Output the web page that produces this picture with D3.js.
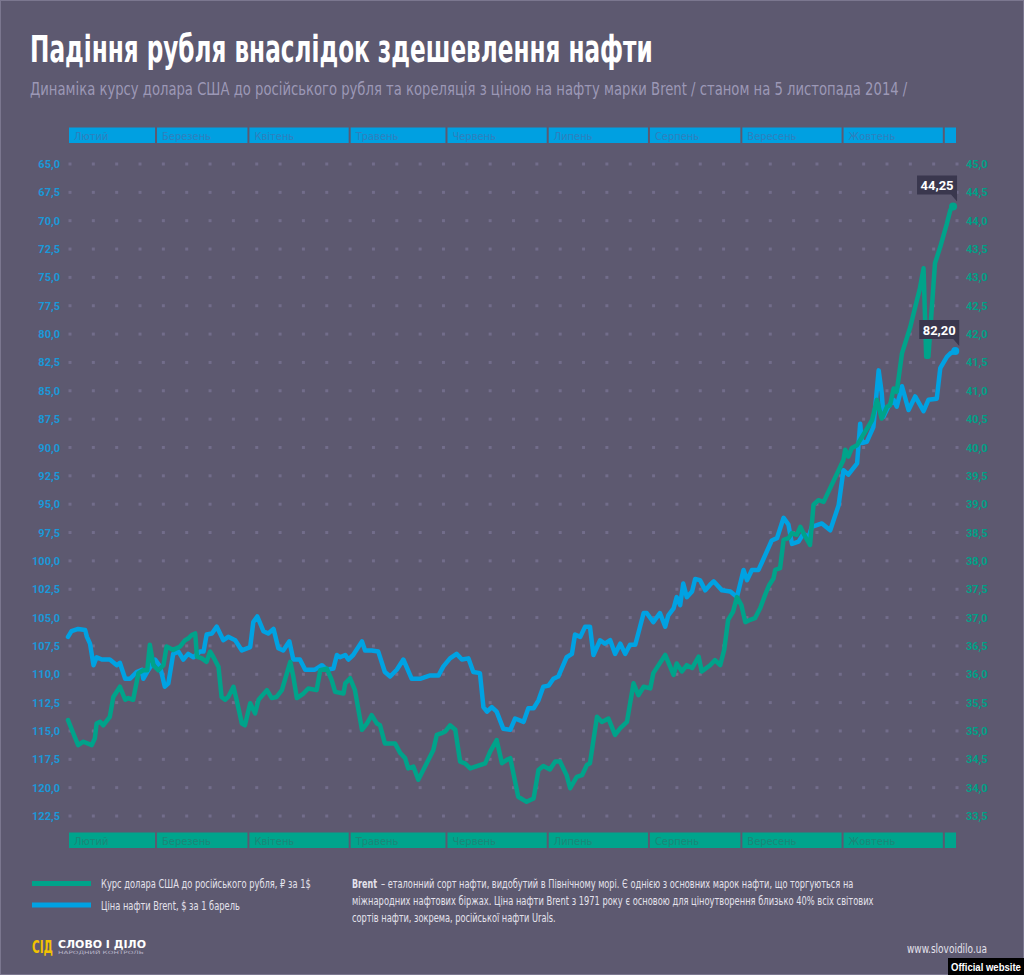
<!DOCTYPE html>
<html><head><meta charset="utf-8">
<script src="https://cdn.jsdelivr.net/npm/d3@7"></script>
<style>
html,body{margin:0;padding:0;background:#5d5970;}
svg{display:block;}
.cond{font-family:'Liberation Sans Narrow','DejaVu Sans Condensed','Roboto Condensed','Liberation Sans',sans-serif;}
</style></head>
<body>
<svg id="chart" width="1024" height="975"></svg>
<script>
// ---------- DATA ----------
const titleText = "Падіння рубля внаслідок здешевлення нафти";
const subtitleText = "Динаміка курсу долара США до російського рубля та кореляція з ціною на нафту марки Brent / станом на 5 листопада 2014 /";
const months = ["Лютий","Березень","Квітень","Травень","Червень","Липень","Серпень","Вересень","Жовтень",""];
const monthDays = [20,21,23,22,23,23,21,23,23,3]; // trading days per month
const brentTicks = [65,67.5,70,72.5,75,77.5,80,82.5,85,87.5,90,92.5,95,97.5,100,102.5,105,107.5,110,112.5,115,117.5,120,122.5];
const rubTicks = [33.5,34,34.5,35,35.5,36,36.5,37,37.5,38,38.5,39,39.5,40,40.5,41,41.5,42,42.5,43,43.5,44,44.5,45];

// Brent oil price, $ per barrel (left axis, inverted) — position in trading days
const brentT = [0,0.8,2.3,3.9,4.3,5.0,5.8,6.5,7.7,9.5,11.1,11.8,13.0,14.1,15.6,16.8,17.1,18.3,19.8,20.9,22.0,22.8,23.9,25.1,26.2,27.3,28.5,30.0,30.8,31.5,32.7,33.8,35.3,36.4,38.0,39.5,41.4,42.1,43.0,44.4,45.5,46.7,47.8,48.9,50.3,51.2,52.7,53.9,56.1,57.7,58.8,60.3,61.1,61.8,63.0,63.7,64.8,66.8,67.5,69.0,70.5,72.0,73.2,74.7,76.2,78.1,80.0,82.3,84.2,85.3,86.8,88.3,89.5,91.0,92.1,93.6,94.4,95.2,96.3,97.4,98.9,100.5,101.6,103.5,104.6,105.8,106.9,108.0,109.2,110.3,111.4,113.3,114.5,115.2,116.4,117.5,118.6,119.4,120.9,122.0,123.2,124.3,125.5,126.6,127.7,128.9,130.8,131.5,133.0,134.5,135.7,136.4,137.6,138.3,139.1,139.8,140.6,141.8,142.5,143.6,144.8,145.9,146.7,148.6,150.5,152.0,153.5,154.3,155.4,156.9,159.9,161.1,162.6,163.7,164.5,166.0,167.1,168.3,169.0,171.3,173.2,175.1,176.2,177.3,179.3,180.0,180.4,181.5,183.0,184.2,184.9,185.3,186.4,187.6,188.3,189.5,191.0,192.5,194.4,195.5,197.4,198.2,199.7,200.5,201.6];
const brentV = [106.7,106.2,106.0,106.1,106.7,107.3,109.2,108.5,108.7,108.7,109.2,109.0,110.4,110.4,109.8,109.6,110.4,109.6,108.7,109.3,111.1,110.8,108.2,108.0,108.7,108.2,108.5,108.0,108.0,106.5,106.4,105.8,107.0,106.7,107.0,107.9,107.6,105.4,104.9,106.2,106.4,106.0,107.7,107.9,107.1,108.7,108.7,109.6,109.6,109.2,109.6,109.5,108.3,108.5,108.3,108.7,108.3,107.1,107.9,107.9,108.0,109.8,110.2,109.6,108.7,110.4,110.4,110.1,110.1,109.3,108.6,108.2,108.7,108.6,109.8,109.9,112.9,113.3,112.9,113.3,114.8,114.9,113.9,114.2,113.0,113.0,112.3,111.1,111.0,110.4,110.2,108.5,108.2,106.5,106.7,105.8,105.8,108.3,107.0,107.3,107.0,108.2,107.3,108.2,107.4,107.4,104.6,104.6,105.4,104.6,105.8,104.8,104.2,103.2,103.9,102.0,103.2,102.7,101.6,101.7,102.6,102.1,101.8,102.6,102.7,103.2,100.8,101.7,100.8,100.8,98.2,98.0,96.2,96.8,98.5,98.3,97.6,97.9,97.0,96.7,97.3,95.1,92.0,92.4,91.4,87.9,89.6,89.5,88.2,83.2,85.2,87.3,86.4,85.8,86.4,84.6,86.7,85.5,86.8,85.8,85.7,83.0,82.0,81.7,81.5];

// USD/RUB exchange rate, ₽ per $1 (right axis)
const rubT = [0,1.2,2.3,3.5,5.4,6.1,6.5,7.3,8.0,9.5,10.3,11.8,13.0,13.7,14.8,16.0,17.1,18.0,18.6,19.4,20.5,21.7,22.4,23.9,25.5,26.6,27.3,28.1,28.9,29.3,30.4,31.5,32.3,33.0,34.2,34.9,35.7,36.4,37.6,38.3,39.5,40.2,41.4,42.5,43.3,45.2,46.3,47.4,48.6,50.5,51.2,52.0,53.5,54.6,56.5,57.3,58.8,59.9,60.7,62.6,63.0,64.1,65.2,66.8,67.9,69.0,70.2,70.9,72.0,74.3,75.5,76.6,77.3,78.5,79.6,83.0,83.8,84.9,85.7,86.8,88.0,89.1,90.2,91.4,94.8,95.9,97.4,98.6,99.7,100.5,102.3,104.2,105.8,106.9,108.0,109.5,110.7,111.8,113.3,114.1,115.6,116.8,117.9,118.6,120.2,121.3,122.8,124.3,125.5,127.0,128.5,129.6,130.8,132.3,133.0,135.7,137.6,138.3,139.5,140.6,141.8,143.3,144.0,145.9,147.0,148.2,149.1,150.0,151.1,152.0,153.0,153.9,155.0,156.1,157.3,158.4,159.3,160.3,160.7,161.8,162.6,163.7,164.5,165.6,166.4,167.5,168.6,169.4,170.5,171.7,176.2,176.6,177.3,178.1,179.3,182.7,183.8,184.9,186.1,186.8,187.6,188.3,189.5,191.4,192.9,193.5,194.4,195.0,195.5,197.0,198.2,199.7,200.5,201.1];
const rubV = [35.19,34.96,34.75,34.81,34.75,34.87,35.13,35.16,35.10,35.25,35.60,35.78,35.55,35.58,35.55,36.02,36.07,36.07,36.52,36.16,36.07,36.16,36.49,36.43,36.49,36.60,36.63,36.69,36.72,36.31,36.28,36.22,36.40,36.31,36.13,35.60,35.55,35.60,35.78,35.55,35.13,35.10,35.49,35.31,35.55,35.72,35.58,35.60,35.72,36.22,35.96,35.58,35.66,35.75,35.72,36.07,36.10,35.90,35.69,35.66,35.84,35.93,35.72,35.02,35.13,35.28,35.13,35.10,34.78,34.78,34.61,34.52,34.34,34.37,34.14,34.66,34.93,34.96,34.99,35.10,35.02,34.46,34.43,34.34,34.43,34.63,34.84,34.43,34.49,34.52,33.84,33.75,33.81,34.31,34.38,34.32,34.46,34.46,34.22,33.99,34.19,34.22,34.40,34.43,35.25,35.16,35.22,34.93,35.05,35.16,35.84,35.63,35.78,35.75,36.02,36.34,35.99,36.19,36.05,36.16,36.11,36.31,36.05,36.16,36.25,36.16,36.43,36.96,37.10,37.36,37.22,36.92,36.96,36.99,37.17,37.40,37.57,37.69,37.84,37.87,38.37,38.40,38.49,38.46,38.60,38.43,38.28,38.99,39.07,39.04,39.78,39.96,39.84,39.99,40.04,40.48,40.84,40.51,40.72,40.75,41.04,40.98,41.66,42.13,42.60,42.78,43.16,41.60,41.60,43.25,43.54,43.95,44.19,44.25];

const endLabels = ["44,25","82,20"]; // [rub, brent]
const legendLabels = ["Курс долара США до російського рубля, ₽ за 1$","Ціна нафти Brent, $ за 1 барель"];
const noteLines = [
  ["Brent","– еталонний сорт нафти, видобутий в Північному морі. Є однією з основних марок нафти, що торгуються на"],
  ["","міжнародних нафтових біржах. Ціна нафти Brent з 1971 року є основою для ціноутворення близько 40% всіх світових"],
  ["","сортів нафти, зокрема, російської нафти Urals."]
];

// ---------- STYLE ----------
const C = {bg:"#5d5970", blue:"#00a2e2", green:"#00a38a", blueTxt:"#1a98d8", greenTxt:"#00a087",
  dot:"#726d8b", txt:"#e4e2ec", sub:"#9c98b6", box:"#3a374e"};

const svg = d3.select("#chart");
svg.append("rect").attr("width",1024).attr("height",975).attr("fill",C.bg);
svg.append("rect").attr("x",0.5).attr("y",0.5).attr("width",1023).attr("height",974).attr("fill","none").attr("stroke","#7b778f").attr("stroke-width",1);

// horizontally scale a text so its width equals w (keeps it real text)
function fit(sel, w){
  const x0 = +sel.attr("x"), y0 = +sel.attr("y");
  const w0 = sel.node().getComputedTextLength();
  sel.attr("x", 0).attr("y", 0).attr("transform", `translate(${x0},${y0}) scale(${w / w0},1)`);
  return sel;
}

// title
fit(svg.append("text").attr("class","cond").attr("x",30).attr("y",62).attr("fill","#ffffff")
  .attr("font-size",38).attr("font-weight","bold").text(titleText), 623);
fit(svg.append("text").attr("class","cond").attr("x",30).attr("y",95).attr("fill",C.sub)
  .attr("font-size",18).text(subtitleText), 878);

// scales
const nDays = d3.sum(monthDays);
const x = d3.scaleLinear().domain([0, nDays]).range([68, 957]);
const yL = d3.scaleLinear().domain([65, 122.5]).range([164, 816]);
const yR = d3.scaleLinear().domain([33.5, 45]).range([816, 164]);
const fmt = v => d3.format(".1f")(v).replace(".", ",");

// grid dots
const cols = d3.range(39).map(k => 70 + k * (887 / 38));
const g = svg.append("g");
brentTicks.forEach(t => {
  cols.forEach(cx => g.append("rect").attr("x", cx - 1.5).attr("y", yL(t) - 1.5).attr("width", 3).attr("height", 3).attr("fill", C.dot));
});

// axes
const axL = svg.append("g").attr("transform","translate(60,0)")
  .call(d3.axisLeft(yL).tickValues(brentTicks).tickFormat(fmt).tickSize(0).tickPadding(0));
axL.select(".domain").remove();
axL.selectAll("text").attr("fill",C.blueTxt).attr("font-family","Roboto, sans-serif").attr("font-weight","bold").attr("font-size",11);
const axR = svg.append("g").attr("transform","translate(966,0)")
  .call(d3.axisRight(yR).tickValues(rubTicks).tickFormat(fmt).tickSize(0).tickPadding(0));
axR.select(".domain").remove();
axR.selectAll("text").attr("fill",C.greenTxt).attr("font-family","Roboto, sans-serif").attr("font-weight","bold").attr("font-size",11);

// month bars
const starts = monthDays.map((d,i) => d3.sum(monthDays.slice(0,i)));
function monthBar(y0, fill, tcol){
  const mg = svg.append("g");
  months.forEach((m,i) => {
    const a = x(starts[i]) + 1, b = x(starts[i] + monthDays[i]) - 1;
    mg.append("rect").attr("x",a).attr("y",y0).attr("width",b-a).attr("height",15.5).attr("fill",fill);
    if (m) mg.append("text").attr("class","cond").attr("x",a+5).attr("y",y0+12).attr("fill",tcol).attr("font-size",11).text(m);
  });
}
monthBar(127.5, "#00a0e1", "#2f7fbd");
monthBar(832.5, "#00a48c", "#1e8577");

// lines
const brent = brentT.map((t,i) => ({t, v: brentV[i]}));
const rub = rubT.map((t,i) => ({t, v: rubV[i]}));
const lineB = d3.line().x(d => x(d.t)).y(d => yL(d.v));
const lineR = d3.line().x(d => x(d.t)).y(d => yR(d.v));
svg.append("path").datum(brent).attr("d",lineB).attr("fill","none").attr("stroke",C.blue)
  .attr("stroke-width",4.5).attr("stroke-linejoin","round").attr("stroke-linecap","round");
svg.append("path").datum(rub).attr("d",lineR).attr("fill","none").attr("stroke",C.green)
  .attr("stroke-width",4.5).attr("stroke-linejoin","round").attr("stroke-linecap","round");

// end points + labels
function endLabel(pt, yScale, color, label){
  const px = x(pt.t), py = yScale(pt.v);
  svg.append("circle").attr("cx",px).attr("cy",py).attr("r",4).attr("fill",color);
  const bw = 40, bh = 19, bx = px + 4 - bw, by = py - 12 - bh;
  svg.append("path").attr("d",`M${bx},${by}H${bx+bw}V${by+bh+7}L${bx+bw-6},${by+bh}H${bx}Z`).attr("fill",C.box);
  svg.append("text").attr("x",bx+bw/2).attr("y",by+14.5).attr("text-anchor","middle").attr("fill","#ffffff")
    .attr("font-family","Roboto, sans-serif").attr("font-weight","bold").attr("font-size",13).text(label);
}
endLabel(rub[rub.length-1], yR, C.green, endLabels[0]);
endLabel(brent[brent.length-1], yL, C.blue, endLabels[1]);

// legend
[[C.green, 883.5], [C.blue, 905]].forEach((d,i) => {
  svg.append("rect").attr("x",32).attr("y",d[1]-2.5).attr("width",59).attr("height",5).attr("fill",d[0]);
  fit(svg.append("text").attr("class","cond").attr("x",101).attr("y",d[1]+4.5).attr("fill",C.txt).attr("font-size",13).text(legendLabels[i]), i===0 ? 210 : 139);
});

// note
const noteW = [477, 522, 204];
noteLines.forEach((ln,i) => {
  const y = 888 + i*17;
  let x0 = 352;
  if (ln[0]) {
    fit(svg.append("text").attr("class","cond").attr("x",352).attr("y",y).attr("fill",C.txt).attr("font-size",12.5).attr("font-weight","bold").text(ln[0]), 25);
    x0 = 381;
  }
  fit(svg.append("text").attr("class","cond").attr("x",x0).attr("y",y).attr("fill",C.txt).attr("font-size",12.5).text(ln[1]), noteW[i] - (ln[0] ? 4 : 0));
});

// logo
fit(svg.append("text").attr("x",32).attr("y",952.5).attr("fill","#f2c200").attr("font-family","'DejaVu Sans', sans-serif").attr("font-weight","bold").attr("font-size",17).text("СІД"), 21);
fit(svg.append("text").attr("x",58).attr("y",947.5).attr("fill","#ffffff").attr("font-family","'DejaVu Sans', sans-serif").attr("font-weight","bold").attr("font-size",10.5).text("СЛОВО І ДІЛО"), 88);
fit(svg.append("text").attr("x",58).attr("y",954).attr("fill","#b8b5c8").attr("font-family","'DejaVu Sans', sans-serif").attr("font-size",4.5).text("НАРОДНИЙ КОНТРОЛЬ"), 86);

// site
fit(svg.append("text").attr("class","cond").attr("x",907).attr("y",953).attr("fill",C.txt).attr("font-size",13).text("www.slovoidilo.ua"), 80);

// watermark
svg.append("rect").attr("x",948).attr("y",958).attr("width",76).attr("height",17).attr("fill","#000");
fit(svg.append("text").attr("x",951).attr("y",971).attr("fill","#fff").attr("font-family","'Liberation Sans Narrow','Liberation Sans', Arial, sans-serif").attr("font-weight","bold").attr("font-size",11).text("Official website"), 70);
</script>
</body></html>
